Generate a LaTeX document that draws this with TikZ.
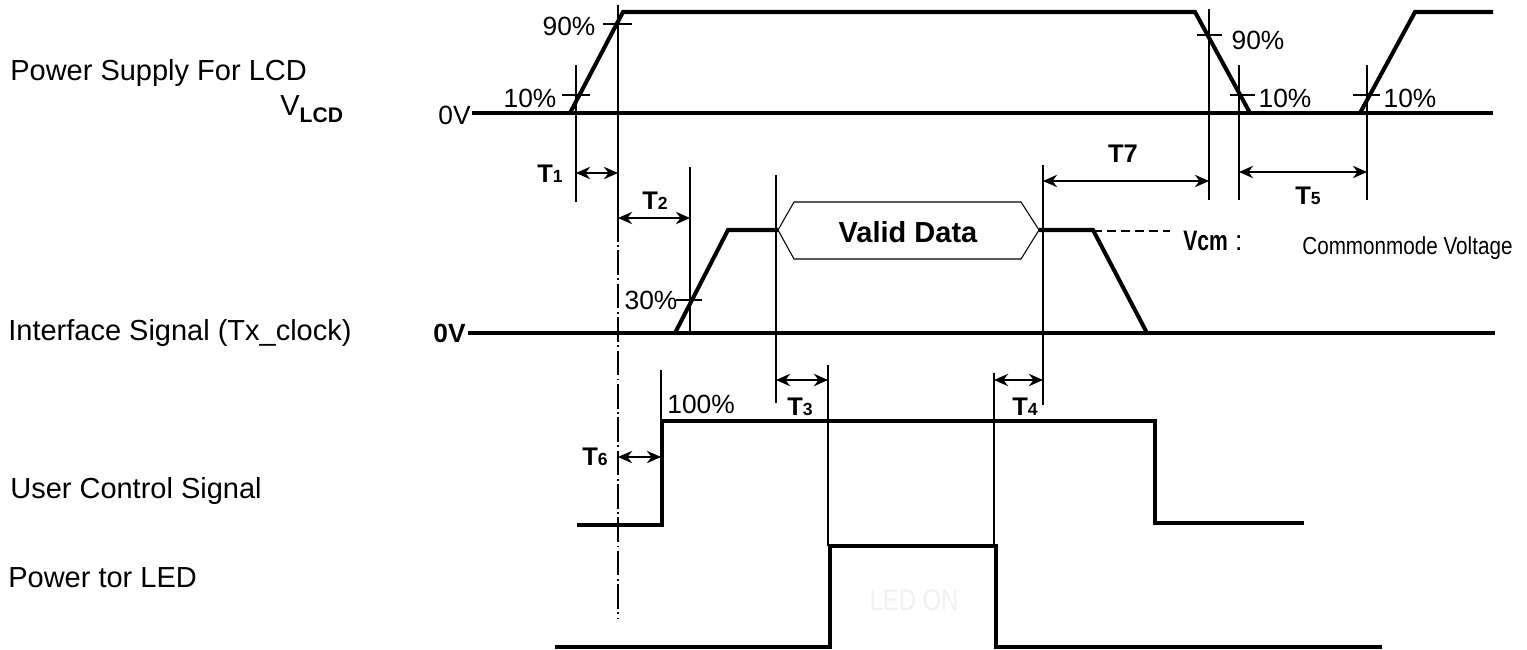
\documentclass[tikz,border=0pt]{standalone}
\usepackage{fontspec}
\setmainfont{Liberation Sans}
\usepackage{graphicx}
\usetikzlibrary{arrows.meta}
\tikzset{every picture/.style={>={Stealth[length=8pt,width=7pt]}}}
\tikzset{
  sig/.style={line width=2.3pt},
  guide/.style={line width=0.7pt},
  edge/.style={line width=1.4pt},
  dim/.style={<->,line width=1.6pt},
  lbl/.style={font=\fontsize{16.5}{18}\selectfont,inner sep=0pt,anchor=base west},
  pct/.style={font=\fontsize{15}{16}\selectfont,inner sep=0pt},
  tlab/.style={font=\fontsize{14.5}{16}\selectfont\bfseries,inner sep=0pt,anchor=base}
}
\newcommand{\tsub}[1]{T{\fontsize{10}{10}\selectfont #1}}

\begin{document}
\begin{tikzpicture}[x=0.02cm,y=-0.02cm]
  \useasboundingbox (0,0) rectangle (1527,649);

  \node[lbl] (lcdlab) at (10,80) {Power Supply For LCD};
  \node[lbl] (vlcd)   at (280,115) {V\raisebox{-4pt}{\fontsize{12}{12}\selectfont\bfseries LCD}};
  \node[lbl] (iflab)  at (8,340) {Interface Signal (Tx\_clock)};
  \node[lbl] (uclab)  at (10,498) {User Control Signal};
  \node[lbl] (ledlab) at (8,587) {Power tor LED};

  % power supply for LCD
  \draw[sig] (472,113) -- (1493,113);
  \draw[sig] (570,113) -- (623,12) -- (1195,12) -- (1250,113);
  \draw[sig] (1360,113) -- (1415,12) -- (1493,12);
  \node[pct,anchor=base east] (zv1) at (471,124) {0V};
  \draw[guide] (562,95) -- (590,95) node[pct,anchor=base east] (p10a) at (557,107) {10\%};
  \draw[guide] (603,24) -- (632,24) node[pct,anchor=base east] (p90a) at (596,35) {90\%};
  \draw[guide] (1197,35) -- (1222,35) node[pct,anchor=base west] (p90b) at (1231,49) {90\%};
  \draw[guide] (1230,95) -- (1255,95) node[pct,anchor=base west] (p10b) at (1258,107) {10\%};
  \draw[guide] (1353,95) -- (1380,95) node[pct,anchor=base west] (p10c) at (1383,107) {10\%};

  \coordinate (m1) at (576,173);
  \coordinate (m90) at (618,173);
  \coordinate (m7) at (1209,181);
  \coordinate (m10) at (1239,172);
  \coordinate (m5) at (1367,172);
  \draw[edge] (576,65) -- (576,202);
  \draw[guide] (618,5) -- (618,217);
  \draw[guide,dash pattern=on 14pt off 2pt on 1pt off 2pt] (618,217) -- (618,618);
  \draw[edge] (1209,9) -- (1209,200);
  \draw[edge] (1239,65) -- (1239,200);
  \draw[edge] (1367,65) -- (1367,200);

  \draw[dim] (m1) -- (m90);
  \node[tlab] (t1) at (550,182) {\tsub{1}};
  \draw[dim] (m10) -- (m5);
  \node[tlab] (t5) at (1308,204) {\tsub{5}};

  % interface signal
  \node[pct,anchor=base east,font=\fontsize{15}{16}\selectfont\bfseries] (zv2) at (466,342) {0V};
  \draw[sig] (468,333) -- (1495,333);
  \draw[sig] (675,333) -- (728,230) -- (778,230);
  \draw[sig] (1039,230) -- (1093,230) -- (1147,333);
  \draw[line width=1.6pt,dashed,dash pattern=on 5pt off 3pt] (1093,231) -- (1170,231);
  \draw[line width=0.6pt] (778,230) -- (794,202) -- (1021,202) -- (1039,230) -- (1021,259) -- (794,259) -- cycle;
  \node[font=\fontsize{16.5}{18}\selectfont\bfseries] (valid) at (908,232) {Valid Data};
  \draw[guide] (676,300) -- (702,300) node[pct,anchor=base east] (p30) at (678,309) {30\%};

  \coordinate (m2) at (690,218);
  \coordinate (m2l) at (618,218);
  \coordinate (m3) at (776,380);
  \coordinate (m3r) at (828,380);
  \coordinate (m4l) at (994,380);
  \coordinate (m4) at (1043,380);
  \coordinate (m7l) at (1043,181);
  \draw[guide] (690,167) -- (690,333);
  \draw[edge] (776,175) -- (776,403);
  \draw[edge] (1043,165) -- (1043,405);
  \draw[guide] (828,365) -- (828,546);
  \draw[guide] (994,373) -- (994,546);

  \draw[dim] (m2l) -- (m2);
  \node[tlab] (t2) at (655,209) {\tsub{2}};
  \draw[dim] (m7l) -- (m7);
  \node[tlab] (t7) at (1123,162) {T7};
  \draw[dim] (m3) -- (m3r);
  \node[tlab] (t3) at (800,415) {\tsub{3}};
  \draw[dim] (m4l) -- (m4);
  \node[tlab] (t4) at (1025,415) {\tsub{4}};

  \node[anchor=base west,inner sep=0pt,font=\fontsize{16}{18}\selectfont] (vcm) at (1183,250) {\scalebox{0.75}[1]{\bfseries Vcm}\hspace{4pt}:};
  \node[anchor=base west,inner sep=0pt,font=\fontsize{14}{16}\selectfont] (cmv) at (1302,254) {\scalebox{0.84}[1]{Commonmode Voltage}};

  % user control signal
  \draw[sig] (577,525) -- (662,525) -- (662,421) -- (1155,421) -- (1155,523) -- (1304,523);
  \draw[guide] (661,370) -- (661,421);
  \node[pct,anchor=base west] (p100) at (667,413) {100\%};
  \coordinate (m6l) at (618,457);
  \coordinate (m6) at (661,457);
  \draw[dim] (m6l) -- (m6);
  \node[tlab] (t6) at (595,465) {\tsub{6}};

  % power for LED
  \draw[sig] (555,647) -- (830,647) -- (830,546) -- (996,546) -- (996,647) -- (1382,647);
  \node[font=\fontsize{17}{18}\selectfont,text=gray!12] (ledon) at (914,600) {\scalebox{0.8}[1]{LED ON}};
\end{tikzpicture}
\end{document}
